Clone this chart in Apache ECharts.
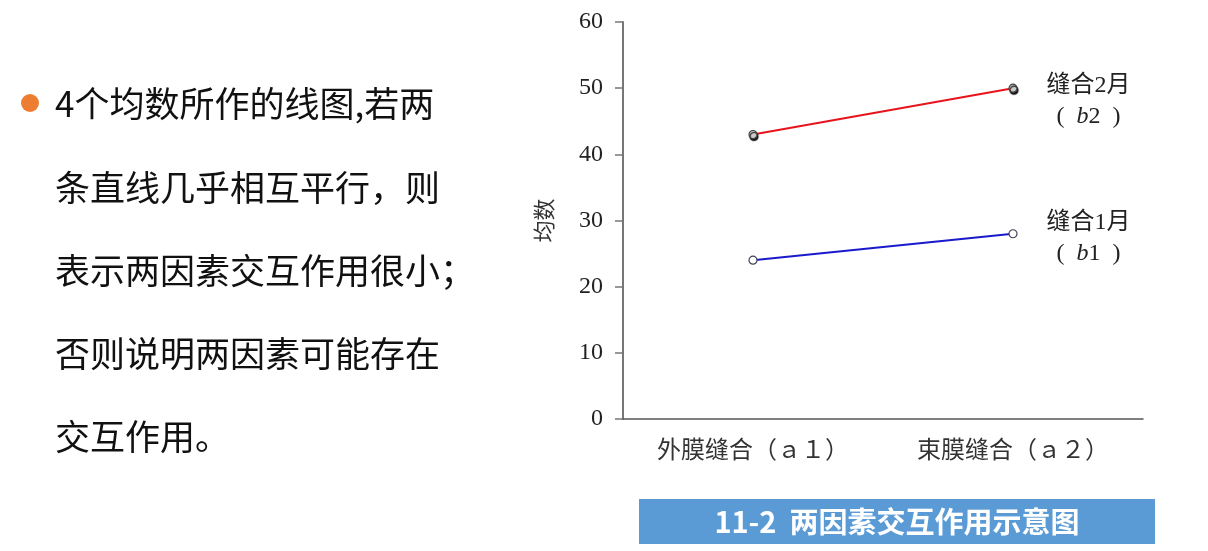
<!DOCTYPE html>
<html lang="zh">
<head>
    <meta charset="UTF-8">
    <title>两因素交互作用示意图</title>
    <style>
        html,body{margin:0;padding:0;background:#fff;}
        #main{width:1208px;height:551px;}
    </style>
</head>
<body>
    <div id="main"></div>
    <script src="https://cdn.jsdelivr.net/npm/echarts@6/dist/echarts.min.js"></script>
    <script>
        // 数据
        var categories = ['外膜缝合（ａ１）', '束膜缝合（ａ２）'];
        var b1Values = [24, 28];   // 缝合1月
        var b2Values = [43, 50];   // 缝合2月
        var seriesNames = ['缝合1月', '缝合2月'];
        var seriesCodes = ['1', '2'];
        var yTicks = { min: 0, max: 60, interval: 10 };
        var noteLines = [
            '4个均数所作的线图,若两',
            '条直线几乎相互平行，则',
            '表示两因素交互作用很小；',
            '否则说明两因素可能存在',
            '交互作用。'
        ];
        var caption = '11-2  两因素交互作用示意图';

        var serif = '"Liberation Serif", "Noto Sans CJK SC", serif';
        var sans = '"Noto Sans CJK SC", "Noto Sans", sans-serif';

        // 线尾的两行说明：缝合X月 /（bX）
        function endLabel(idx, dy) {
            return {
                show: true,
                position: 'right',
                distance: 26,
                offset: [0, dy],
                width: 90,
                formatter: function (p) {
                    if (p.dataIndex !== categories.length - 1) return '';
                    return '{t|' + seriesNames[idx] + '}\n{p|(\u2002}{i|b}{d|' + seriesCodes[idx] + '}{p|\u2002)}';
                },
                rich: {
                    t: { fontSize: 24, lineHeight: 31, align: 'center', color: '#222', fontFamily: serif },
                    p: { fontSize: 24, lineHeight: 31, align: 'center', color: '#222', fontFamily: serif },
                    i: { fontSize: 24, lineHeight: 31, align: 'center', color: '#222', fontFamily: serif, fontStyle: 'italic' },
                    d: { fontSize: 24, lineHeight: 31, align: 'center', color: '#222', fontFamily: serif }
                }
            };
        }

        var graphics = [{
            type: 'circle',
            shape: { cx: 30, cy: 103, r: 9 },
            style: { fill: '#ed7d31' }
        }];
        noteLines.forEach(function (t, i) {
            graphics.push({
                type: 'text',
                x: 55,
                y: 104 + i * 83.25,
                style: { text: t, font: '35px ' + sans, fill: '#111', textVerticalAlign: 'middle' }
            });
        });
        graphics.push({
            type: 'rect',
            shape: { x: 639, y: 499, width: 516, height: 45 },
            style: { fill: '#5b9bd5' }
        });
        graphics.push({
            type: 'text',
            x: 897,
            y: 522,
            style: {
                text: caption,
                font: 'bold 29px ' + sans,
                fill: '#fff',
                textAlign: 'center',
                textVerticalAlign: 'middle'
            }
        });

        var chart = echarts.init(document.getElementById('main'));
        chart.setOption({
            animation: false,
            grid: { left: 623, right: 65, top: 22, bottom: 132 },
            xAxis: {
                type: 'category',
                data: categories,
                boundaryGap: true,
                axisLine: { lineStyle: { color: '#555', width: 1.5 } },
                axisTick: { show: false },
                axisLabel: { margin: 21, fontSize: 24, color: '#333', fontFamily: serif }
            },
            yAxis: {
                type: 'value',
                min: yTicks.min,
                max: yTicks.max,
                interval: yTicks.interval,
                name: '均数',
                nameLocation: 'middle',
                nameGap: 68,
                nameRotate: 90,
                nameTextStyle: { fontSize: 22, color: '#333', fontFamily: sans },
                axisLine: { show: true, lineStyle: { color: '#777', width: 2 } },
                axisTick: { show: true, length: 8, lineStyle: { color: '#777', width: 1.5 } },
                splitLine: { show: false },
                axisLabel: { margin: 20, fontSize: 24, color: '#222', fontFamily: serif }
            },
            series: [{
                name: seriesNames[0],
                type: 'line',
                data: b1Values,
                symbol: 'circle',
                symbolSize: 8,
                lineStyle: { color: '#1a1acc', width: 2 },
                itemStyle: { color: '#fff', borderColor: '#445', borderWidth: 1.2 },
                label: endLabel(0, 4)
            }, {
                name: seriesNames[1],
                type: 'line',
                data: b2Values,
                symbol: 'circle',
                symbolSize: 8,
                lineStyle: { color: '#e8141c', width: 2 },
                itemStyle: {
                    color: '#ccc', borderColor: '#444', borderWidth: 1.2,
                    shadowColor: 'rgba(0,0,0,0.9)', shadowBlur: 1, shadowOffsetX: 1, shadowOffsetY: 2
                },
                label: endLabel(1, 13)
            }],
            graphic: graphics
        });
    </script>
</body>
</html>
